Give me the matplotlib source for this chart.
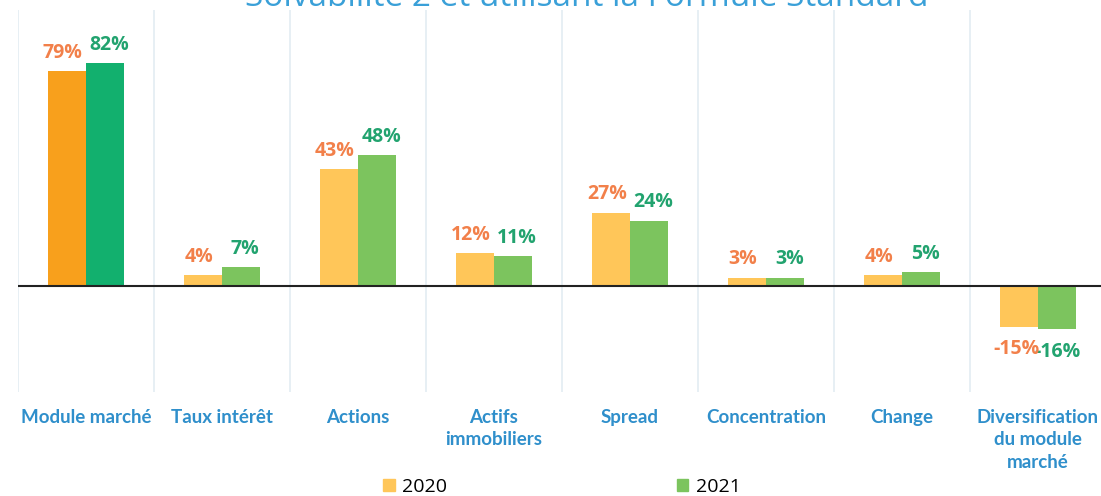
import matplotlib.pyplot as plt
from matplotlib.patches import Patch
import numpy as np

categories = ["Module marché", "Taux intérêt", "Actions", "Actifs\nimmobiliers",
              "Spread", "Concentration", "Change", "Diversification\ndu module\nmarché"]
values_2020 = [79, 4, 43, 12, 27, 3, 4, -15]
values_2021 = [82, 7, 48, 11, 24, 3, 5, -16]
years = ["2020", "2021"]

orange_dark, green_dark = "#F8A01C", "#12B06E"
orange_light, green_light = "#FFC659", "#7CC45E"
label_orange, label_green = "#F2804A", "#22A36F"
blue = "#2F8FCB"

W, H = 1101, 496
fig = plt.figure(figsize=(W / 100, H / 100), dpi=100)
# axes spans 8 columns of 136 px; the last column runs past the right edge
ax = fig.add_axes([18 / W, (H - 392) / H, 8 * 136 / W, (392 - 10) / H])
ax.set_xlim(-0.5, 7.5)
ax.set_ylim(-39, 101.5)

x = np.arange(len(categories))
bw = 0.28
c20 = [orange_dark] + [orange_light] * (len(categories) - 1)
c21 = [green_dark] + [green_light] * (len(categories) - 1)
ax.bar(x - bw / 2, values_2020, bw, color=c20, zorder=2)
ax.bar(x + bw / 2, values_2021, bw, color=c21, zorder=2)

# column separators and zero line
for b in np.arange(-0.5, 8, 1):
    ax.axvline(b, color="#E3ECF2", lw=1.2, zorder=1)
ax.axhline(0, color="#222222", lw=1.5, zorder=3)

lab = dict(fontsize=14, fontweight="bold", family="Open Sans", ha="center",
           textcoords="offset points")
for i in range(len(categories)):
    v0, v1 = values_2020[i], values_2021[i]
    if v0 >= 0:
        ax.annotate(f"{v0}%", (x[i] - bw / 2, v0), xytext=(-3, 6), va="bottom",
                    color=label_orange, zorder=4, **lab)
        ax.annotate(f"{v1}%", (x[i] + bw / 2, v1), xytext=(3, 6), va="bottom",
                    color=label_green, zorder=4, **lab)
    else:
        ax.annotate(f"{v1}%", (x[i] + bw / 2, v1), xytext=(0, -9), va="top",
                    color=label_green, zorder=4, **lab)
        ax.annotate(f"{v0}%", (x[i] - bw / 2, v0), xytext=(-2, -9), va="top",
                    color=label_orange, zorder=5, **lab)

ax.set_xticks(x)
ax.set_xticklabels(categories, color=blue, fontweight="bold", fontsize=13.5,
                   family="Lato", linespacing=1.4, va="top")
ax.tick_params(axis="x", length=0, pad=12)
ax.set_yticks([])
for s in ax.spines.values():
    s.set_visible(False)

fig.text(587 / W, 1 - 6 / H, "Solvabilité 2 et utilisant la Formule Standard",
         ha="center", va="baseline", color="#3AA0D8", fontsize=24, family="Open Sans")

handles = [Patch(color=orange_light), Patch(color=green_light)]
fig.legend(handles, years, loc="center", bbox_to_anchor=(562 / W, 9 / H), ncol=2,
           frameon=False, handlelength=0.6, handleheight=0.6,
           handletextpad=0.4, columnspacing=11.8, prop={"family": "Open Sans", "size": 14})

fig.savefig("out.png", dpi=100)
